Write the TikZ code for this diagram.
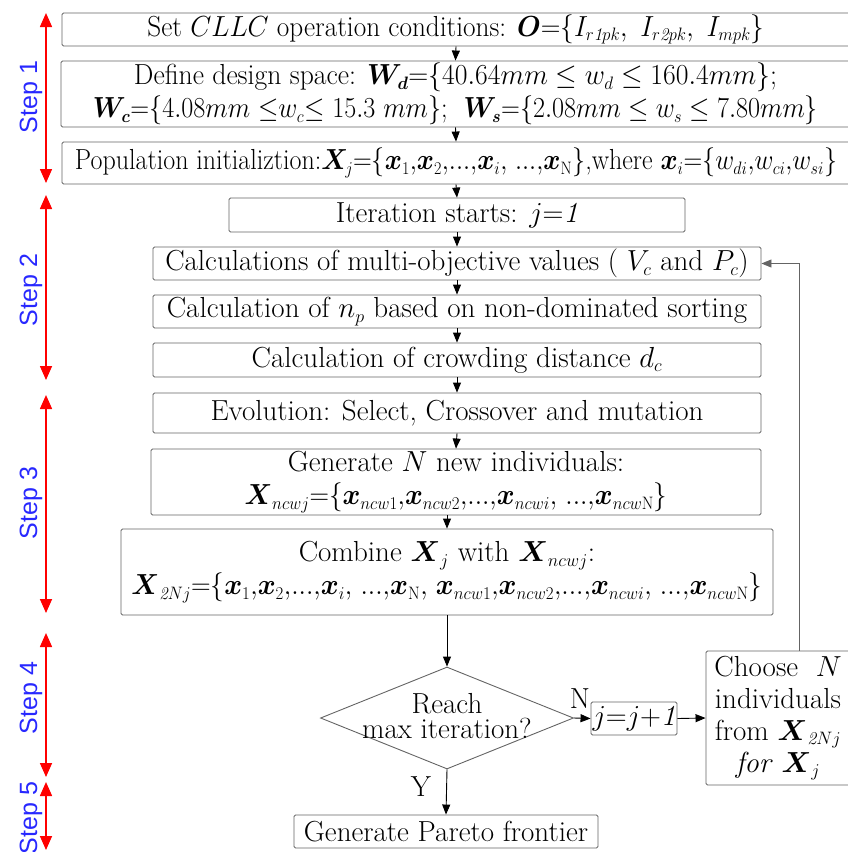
\RequirePackage{fix-cm}
\documentclass[tikz,border=0pt]{standalone}
\usepackage{amsmath}
\usepackage{fontspec}
\newfontfamily\stepfont{Liberation Sans}
\usetikzlibrary{arrows.meta,shapes.geometric}
\DeclareMathSizes{29}{29}{18}{14}
\newcommand\fsz{\fontsize{29}{33}\selectfont}
\newcommand\cm{{,}}
\newcommand\dd{{.}{.}{.}}
\newcommand\fitw[2]{\resizebox{#1pt}{\height}{#2}}
\definecolor{stepblue}{RGB}{40,40,255}
\definecolor{boxgray}{RGB}{100,100,100}
\begin{document}
\begin{tikzpicture}[x=1pt,y=-1pt,
  box/.style={draw=boxgray, line width=0.9pt, rounded corners=1.5pt, inner sep=0pt, align=center, font=\fsz},
  arr/.style={-{Triangle[width=8pt,length=10pt]}, line width=0.9pt},
  steparr/.style={{Triangle[width=12pt,length=14pt]}-{Triangle[width=12pt,length=14pt]}, red, line width=1.6pt},
  steplbl/.style={rotate=90, text=stepblue, inner sep=0pt, font=\stepfont\fontsize{25}{30}\selectfont},
  lbl/.style={inner sep=0pt, font=\fsz}]
\useasboundingbox (0,0) rectangle (847,852);

% step arrows
\coordinate (s1a) at (46,13);  \coordinate (s1b) at (46,183);
\coordinate (s2a) at (46,195); \coordinate (s2b) at (46,380);
\coordinate (s3a) at (46,395); \coordinate (s3b) at (46,613);
\coordinate (s4a) at (46,633); \coordinate (s4b) at (46,777);
\coordinate (s5a) at (46,782); \coordinate (s5b) at (46,850);
\draw[steparr] (s1a) -- (s1b);
\draw[steparr] (s2a) -- (s2b);
\draw[steparr] (s3a) -- (s3b);
\draw[steparr] (s4a) -- (s4b);
\draw[steparr] (s5a) -- (s5b);
\node[steplbl] (l1) at (31,97) {Step 1};
\node[steplbl] (l2) at (31,290) {Step 2};
\node[steplbl] (l3) at (31,503) {Step 3};
\node[steplbl] (l4) at (31,698) {Step 4};
\node[steplbl] (l5) at (31,818) {Step 5};

% boxes
\node[box, minimum width=788pt, minimum height=33pt] (b1) at (456,29.5)
  {\fitw{617}{Set $CLLC$ operation conditions: $\boldsymbol{O}{=}\{I_{r\mathit{1}pk},\ I_{r\mathit{2}pk},\ I_{mpk}\}$}};
\node[box, minimum width=789pt, minimum height=66pt] (b2) at (455.5,94)
  {\fitw{643}{Define design space: $\boldsymbol{W_d}{=}\{40.64mm \le w_d \le 160.4mm\}$;}\\
   \fitw{725}{$\boldsymbol{W_c}{=}\{4.08mm\ {\le} w_c{\le}\ 15.3\ mm\}$; \ $\boldsymbol{W_s}{=}\{2.08mm \le w_s \le 7.80mm\}$}};
\node[box, minimum width=788pt, minimum height=42pt] (b3) at (456,163)
  {\fitw{762}{Population initializtion:$\boldsymbol{X}_{\!j}{=}\{\boldsymbol{x}_1\cm\boldsymbol{x}_2\cm\dd\cm\boldsymbol{x}_i\cm\ \dd\cm\boldsymbol{x}_{\mathrm{N}}\}$,where $\boldsymbol{x}_i{=}\{w_{di}\cm w_{ci}\cm w_{si}\}$}};
\node[box, minimum width=456pt, minimum height=34pt] (b4) at (457,215)
  {Iteration starts: $j{=}\mathit{1}$};
\node[box, minimum width=608pt, minimum height=33pt] (b5) at (457,263.5)
  {Calculations of multi-objective values ( $V_c$ and $P_c$)};
\node[box, minimum width=608pt, minimum height=33pt] (b6) at (457,311.5)
  {Calculation of $n_p$ based on non-dominated sorting};
\node[box, minimum width=608pt, minimum height=34pt] (b7) at (457,360)
  {Calculation of crowding distance $d_c$};
\node[box, minimum width=608pt, minimum height=40pt] (b8) at (457,413)
  {Evolution: Select, Crossover and mutation};
\node[box, minimum width=610pt, minimum height=66pt] (b9) at (456,482)
  {Generate $N$ new individuals:\\
   \fitw{423}{$\boldsymbol{X}_{ncwj}{=}\{\boldsymbol{x}_{ncw1}\cm\boldsymbol{x}_{ncw2}\cm\dd\cm\boldsymbol{x}_{ncwi}\cm\ \dd\cm\boldsymbol{x}_{ncw\mathrm{N}}\}$}};
\node[box, minimum width=652pt, minimum height=86pt] (b10) at (447,572)
  {Combine $\boldsymbol{X}_j$ with $\boldsymbol{X}_{ncwj}$:\\
   \fitw{631}{$\boldsymbol{X}_{\mathit{2}Nj}{=}\{\boldsymbol{x}_1\cm\boldsymbol{x}_2\cm\dd\cm\boldsymbol{x}_i\cm\ \dd\cm\boldsymbol{x}_{\mathrm{N}}\cm\ \boldsymbol{x}_{ncw1}\cm\boldsymbol{x}_{ncw2}\cm\dd\cm\boldsymbol{x}_{ncwi}\cm\ \dd\cm\boldsymbol{x}_{ncw\mathrm{N}}\}$}};

\node[diamond, draw=boxgray, line width=0.9pt, minimum width=253pt, minimum height=102pt, inner sep=0pt] (dec) at (447,718) {};
\node[lbl, align=center, font=\fontsize{29}{25}\selectfont] (dect) at (447,716) {Reach\\max iteration?};
\node[box, minimum width=86pt, minimum height=33pt] (jinc) at (634,718.5) {$j{=}j{+}\mathit{1}$};
\node[box, minimum width=144pt, minimum height=134pt, font=\fontsize{29}{32}\selectfont] (choose) at (778,718)
  {Choose \ $N$\\individuals\\from $\boldsymbol{X}_{\mathit{2}Nj}$\\\textit{for} $\boldsymbol{X}_j$};
\node[box, minimum width=304pt, minimum height=33pt] (par) at (446,831.5) {Generate Pareto frontier};

\node[lbl] (nl) at (580,699) {N};
\node[lbl] (yl) at (421,787) {Y};

% connectors
\draw[arr] (b1.south) -- (b2.north);
\draw[arr] (b2.south) -- (b3.north);
\draw[arr] (b3.south) -- (b4.north);
\draw[arr] (b4.south) -- (b5.north);
\draw[arr] (b5.south) -- (b6.north);
\draw[arr] (b6.south) -- (b7.north);
\draw[arr] (b7.south) -- (b8.north);
\draw[arr] (b8.south) -- (b9.north);
\draw[arr] (b9.south -| b10.north) -- (b10.north);
\draw[arr] (b10.south) -- (dec.north);
\draw[arr] (dec.south) -- (par.north);
\draw[arr] (dec.east) -- (jinc.west);
\draw[arr] (jinc.east) -- (choose.west);
\draw[arr, draw=boxgray] ([xshift=21pt]choose.north) |- (b5.east);
\end{tikzpicture}
\end{document}
